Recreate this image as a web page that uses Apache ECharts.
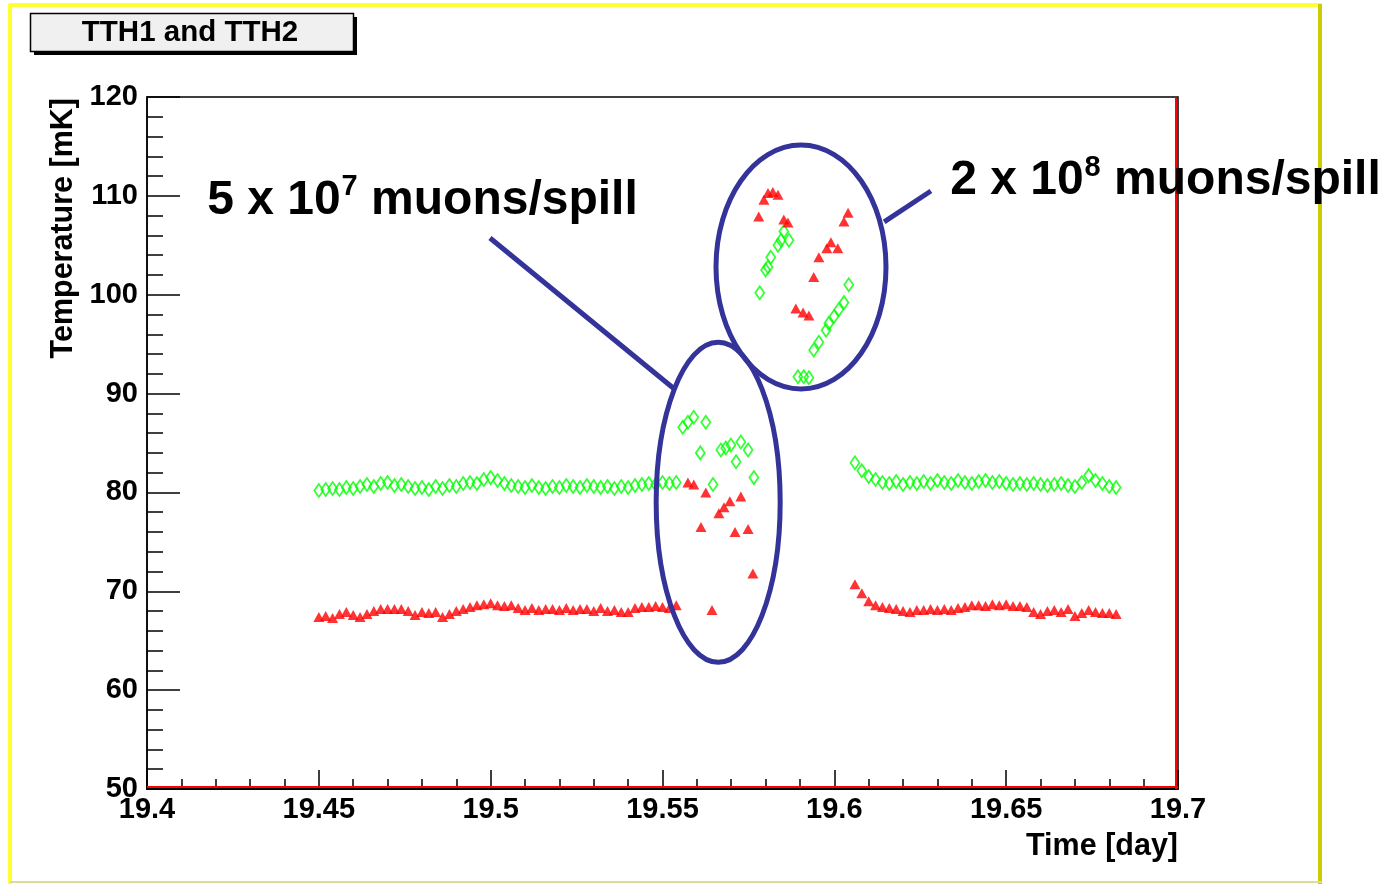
<!DOCTYPE html>
<html>
<head>
<meta charset="utf-8">
<script src="https://cdn.jsdelivr.net/npm/echarts@6/dist/echarts.min.js"></script>
<style>
html,body{margin:0;padding:0;background:#fff;}
#c{width:1382px;height:884px;}
</style>
</head>
<body>
<div id="c"></div>
<script>
// ---- data ----
const title = 'TTH1 and TTH2';
const xTitle = 'Time [day]';
const yTitle = 'Temperature [mK]';

// quiet period before the beam (days)
const tBefore = [19.450,19.452,19.454,19.456,19.458,19.460,19.462,19.464,19.466,19.468,19.470,19.472,19.474,19.476,19.478,19.480,19.482,19.484,19.486,19.488,19.490,19.492,19.494,19.496,19.498,19.500,19.502,19.504,19.506,19.508,19.510,19.512,19.514,19.516,19.518,19.520,19.522,19.524,19.526,19.528,19.530,19.532,19.534,19.536,19.538,19.540,19.542,19.544,19.546,19.548,19.550,19.552,19.554];
const tth2Before = [80.2,80.3,80.4,80.3,80.5,80.4,80.6,80.8,80.6,80.9,81.0,80.7,80.8,80.6,80.4,80.5,80.3,80.6,80.4,80.7,80.6,80.9,81.0,80.9,81.3,81.5,81.2,80.9,80.7,80.6,80.5,80.7,80.5,80.4,80.6,80.5,80.7,80.6,80.5,80.7,80.6,80.5,80.6,80.4,80.6,80.5,80.7,80.8,80.9,80.8,81.0,80.9,81.0];
const tth1Before = [67.4,67.5,67.3,67.7,67.9,67.6,67.4,67.7,68.0,68.2,68.2,68.2,68.2,68.0,67.6,67.9,67.8,67.9,67.4,67.7,68.0,68.2,68.4,68.6,68.7,68.8,68.6,68.5,68.6,68.3,68.1,68.3,68.1,68.2,68.2,68.1,68.3,68.1,68.2,68.2,68.0,68.3,68.0,68.1,67.9,67.9,68.3,68.4,68.4,68.5,68.4,68.3,68.6];

// 5e7 muons/spill
const tth2Spill1T = [19.5559,19.5574,19.5591,19.5626,19.5610,19.5670,19.5684,19.5699,19.5728,19.5749,19.5714,19.5766,19.5647];
const tth2Spill1V = [86.6,87.1,87.6,87.1,84.0,84.3,84.5,84.8,85.1,84.3,83.1,81.5,80.8];
const tth1Spill1T = [19.5574,19.5591,19.5626,19.5664,19.5679,19.5696,19.5728,19.5612,19.5711,19.5749,19.5763,19.5644];
const tth1Spill1V = [81.0,80.8,80.0,77.9,78.5,79.1,79.6,76.5,76.0,76.3,71.8,68.1];

// 2e8 muons/spill
const tth2Spill2T = [19.5853,19.5868,19.5845,19.5836,19.5815,19.5807,19.5800,19.5783,19.6042,19.6028,19.6013,19.5999,19.5984,19.5976,19.5955,19.5940,19.5894,19.5911,19.5926];
const tth2Spill2V = [106.4,105.5,105.5,105.0,103.8,102.8,102.5,100.2,101.0,99.2,98.5,97.8,97.1,96.4,95.2,94.4,91.7,91.7,91.6];
const tth1Spill2T = [19.5807,19.5821,19.5836,19.5795,19.5780,19.5853,19.5865,19.6040,19.6028,19.5990,19.5978,19.6010,19.5955,19.5940,19.5888,19.5909,19.5926];
const tth1Spill2V = [110.3,110.4,110.1,109.6,107.9,107.6,107.3,108.3,107.4,105.3,104.7,104.7,103.8,101.8,98.6,98.2,97.9];

// recovery after the beam
const tAfter = [19.606,19.608,19.610,19.612,19.614,19.616,19.618,19.620,19.622,19.624,19.626,19.628,19.630,19.632,19.634,19.636,19.638,19.640,19.642,19.644,19.646,19.648,19.650,19.652,19.654,19.656,19.658,19.660,19.662,19.664,19.666,19.668,19.670,19.672,19.674,19.676,19.678,19.680,19.682];
const tth2After = [83.0,82.2,81.6,81.3,81.0,80.9,81.1,80.8,81.0,80.9,81.1,80.9,81.2,81.0,80.9,81.2,81.0,80.9,81.1,81.2,81.0,81.1,80.9,80.8,80.9,80.8,80.9,80.8,80.7,80.8,80.9,80.7,80.6,81.0,81.7,81.2,80.9,80.6,80.5];
const tth1After = [70.7,69.8,69.0,68.6,68.4,68.3,68.2,68.0,67.9,68.1,68.1,68.2,68.1,68.2,68.1,68.3,68.4,68.6,68.6,68.5,68.7,68.6,68.7,68.5,68.5,68.4,67.9,67.7,68.0,68.1,67.9,68.2,67.5,67.8,68.1,67.9,67.8,67.8,67.7];

// axis
const xMin = 19.4, xMax = 19.7, xStep = 0.05;
const yMin = 50, yMax = 120, yStep = 10;

// annotations (data coordinates of anchors)
const note1 = {text: ['5 x 10', '7', ' muons/spill'], at: [19.4175, 109.4]};
const note2 = {text: ['2 x 10', '8', ' muons/spill'], at: [19.6337, 111.4]};
const ring1 = {center: [19.5662, 79.0], rx: 62, ry: 160};
const ring2 = {center: [19.5903, 102.8], rx: 85, ry: 122};
const lead1 = [[19.4998, 105.74], [19.5531, 90.56]];
const lead2 = [[19.6145, 107.36], [19.6281, 110.49]];

// ---- build ----
function pairs(ts, vs){ return ts.map((t,i)=>[t, vs[i]]); }
const greenAll = pairs(tBefore, tth2Before).concat(pairs(tth2Spill1T, tth2Spill1V), pairs(tth2Spill2T, tth2Spill2V), pairs(tAfter, tth2After));
const redAll = pairs(tBefore, tth1Before).concat(pairs(tth1Spill1T, tth1Spill1V), pairs(tth1Spill2T, tth1Spill2V), pairs(tAfter, tth1After));

const FONT = '"Liberation Sans", Arial, Helvetica, sans-serif';
const chart = echarts.init(document.getElementById('c'), null, {renderer:'canvas'});

const G = {left:147, top:97, right:204, bottom:95};

chart.setOption({
  animation:false,
  backgroundColor:'#fff',
  grid:{left:G.left, top:G.top, right:G.right, bottom:G.bottom, show:true, borderColor:'#000', borderWidth:1.5, containLabel:false},
  xAxis:{
    type:'value', min:xMin, max:xMax, interval:xStep,
    axisLine:{show:true, lineStyle:{color:'#000', width:2}},
    axisTick:{show:true, inside:true, length:19, lineStyle:{color:'#000', width:1.5}},
    minorTick:{show:true, splitNumber:5, length:10, lineStyle:{color:'#000', width:1.5}},
    splitLine:{show:false},
    axisLabel:{color:'#000', fontFamily:FONT, fontWeight:'bold', fontSize:29, margin:6,
      formatter:v=>String(+v.toFixed(3))}
  },
  yAxis:{
    type:'value', min:yMin, max:yMax, interval:yStep,
    axisLine:{show:true, lineStyle:{color:'#000', width:1.5}},
    axisTick:{show:true, inside:true, length:33, lineStyle:{color:'#000', width:1.5}},
    minorTick:{show:true, splitNumber:5, length:16, lineStyle:{color:'#000', width:1.5}},
    splitLine:{show:false},
    axisLabel:{color:'#000', fontFamily:FONT, fontWeight:'bold', fontSize:29, margin:9}
  },
  series:[
    {type:'scatter', name:'TTH2', data:greenAll, symbol:'diamond', symbolSize:[9,13],
      itemStyle:{color:'rgba(0,0,0,0)', borderColor:'#00ff00', borderWidth:1.8}, z:3},
    {type:'scatter', name:'TTH1', data:redAll, symbol:'triangle', symbolSize:[11,10],
      itemStyle:{color:'#ff0000'}, z:4}
  ]
});

function px(p){ return chart.convertToPixel({gridIndex:0}, p); }
const x0 = px([xMin, yMin]), x1 = px([xMax, yMax]);
const L = x0[0], B = x0[1], R = x1[0], T = x1[1];
const c1 = px(ring1.center), c2 = px(ring2.center);
const l1a = px(lead1[0]), l1b = px(lead1[1]);
const l2a = px(lead2[0]), l2b = px(lead2[1]);
const n1 = px(note1.at), n2 = px(note2.at);

function note(n, p){
  return {type:'text', left:p[0], top:p[1]-29, z:100,
    style:{text:'{a|'+n.text[0]+'}{s|'+n.text[1]+'}{a|'+n.text[2]+'}', fill:'#000',
      rich:{a:{fontFamily:FONT, fontWeight:'bold', fontSize:48, fill:'#000', lineHeight:56},
            s:{fontFamily:FONT, fontWeight:'bold', fontSize:29, fill:'#000', verticalAlign:'top', lineHeight:56, padding:[0,0,0,1]}}}};
}

chart.setOption({
  graphic:[
    // outer canvas frame
    {type:'line', shape:{x1:9, y1:5, x2:1322, y2:5}, style:{stroke:'#ffff33', lineWidth:4}, z:50},
    {type:'line', shape:{x1:10, y1:4, x2:10, y2:884}, style:{stroke:'#ffff33', lineWidth:4}, z:50},
    {type:'line', shape:{x1:1320, y1:4, x2:1320, y2:884}, style:{stroke:'#cccc00', lineWidth:4}, z:50},
    {type:'line', shape:{x1:10, y1:882, x2:1322, y2:882}, style:{stroke:'#dcdc98', lineWidth:2}, z:50},
    // red frame lines inside the plot
    {type:'line', shape:{x1:L, y1:B-2, x2:R, y2:B-2}, style:{stroke:'#ff0000', lineWidth:2}, z:60},
    {type:'line', shape:{x1:R-2, y1:T, x2:R-2, y2:B}, style:{stroke:'#ff0000', lineWidth:2}, z:60},
    // title box with shadow
    {type:'rect', shape:{x:34, y:17, width:323, height:38}, style:{fill:'#000'}, z:70},
    {type:'rect', shape:{x:30.5, y:13.5, width:323, height:38}, style:{fill:'#f0f0f0', stroke:'#000', lineWidth:1.5}, z:71},
    {type:'text', x:190, y:33, z:72, style:{text:title, fontFamily:FONT, fontWeight:'bold', fontSize:29.5, fill:'#000', align:'center', verticalAlign:'middle'}},
    // axis titles
    {type:'text', x:R, y:847, z:72, style:{text:xTitle, fontFamily:FONT, fontWeight:'bold', fontSize:30.5, fill:'#000', align:'right', verticalAlign:'middle'}},
    {type:'text', x:64, y:T+1, rotation:Math.PI/2, z:72, style:{text:yTitle, fontFamily:FONT, fontWeight:'bold', fontSize:30.5, fill:'#000', align:'right', verticalAlign:'middle'}},
    // annotation rings and leaders
    {type:'ellipse', shape:{cx:c1[0], cy:c1[1], rx:ring1.rx, ry:ring1.ry}, style:{fill:null, stroke:'#333399', lineWidth:5}, z:90},
    {type:'ellipse', shape:{cx:c2[0], cy:c2[1], rx:ring2.rx, ry:ring2.ry}, style:{fill:null, stroke:'#333399', lineWidth:5}, z:90},
    {type:'line', shape:{x1:l1a[0], y1:l1a[1], x2:l1b[0], y2:l1b[1]}, style:{stroke:'#333399', lineWidth:5}, z:90},
    {type:'line', shape:{x1:l2a[0], y1:l2a[1], x2:l2b[0], y2:l2b[1]}, style:{stroke:'#333399', lineWidth:5}, z:90},
    note(note1, n1),
    note(note2, n2)
  ]
});
</script>
</body>
</html>
